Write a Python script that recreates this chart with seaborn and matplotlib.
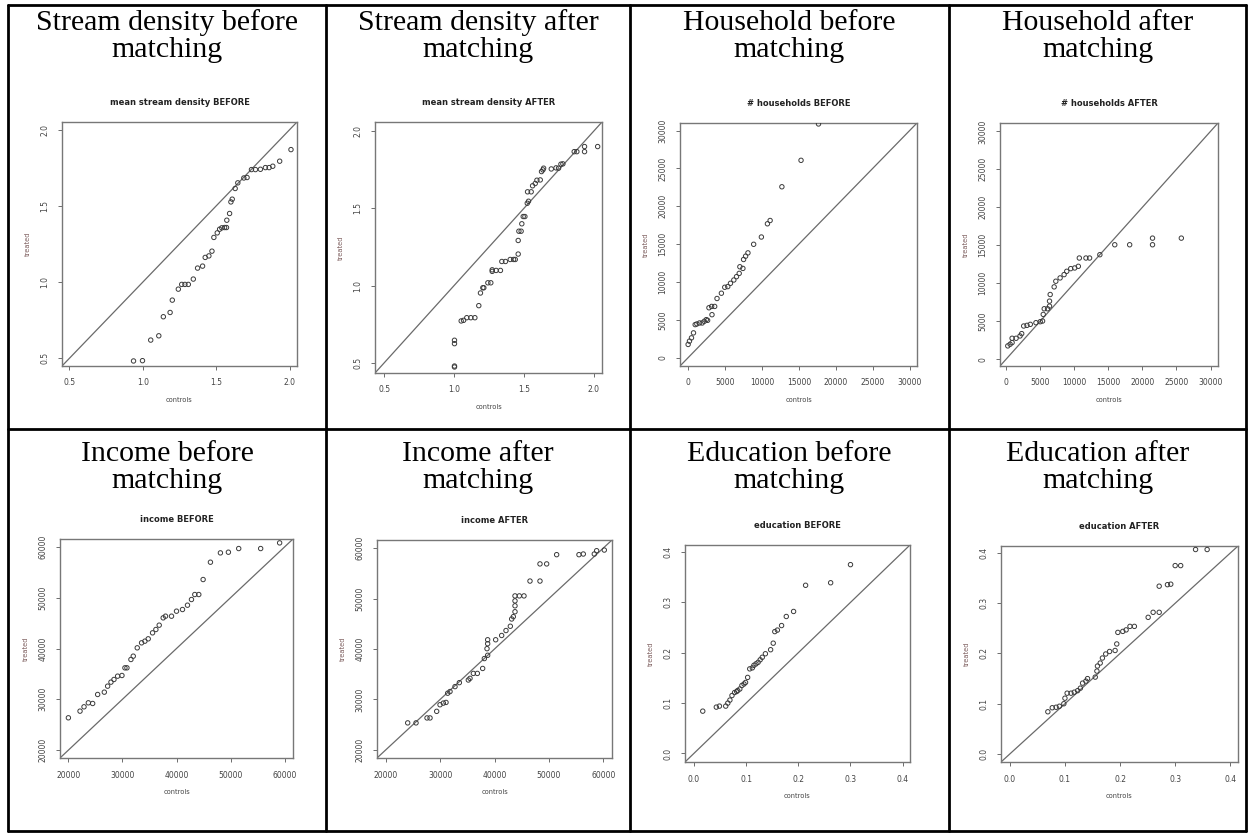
import matplotlib
matplotlib.use("Agg")
import matplotlib.pyplot as plt
import seaborn as sns
from matplotlib.lines import Line2D

sns.set_style("white")

W, H = 1251, 834

# ---- data (controls, treated quantiles) ----
stream_before_x = [0.937, 0.998, 1.054, 1.109, 1.140, 1.186, 1.201, 1.242, 1.265, 1.287, 1.310, 1.344, 1.373,
                   1.407, 1.425, 1.450, 1.471, 1.484, 1.507, 1.523, 1.538, 1.557, 1.570, 1.572, 1.591, 1.600,
                   1.609, 1.629, 1.647, 1.688, 1.710, 1.740, 1.767, 1.801, 1.835, 1.860, 1.885, 1.932, 2.009]
stream_before_y = [0.483, 0.485, 0.620, 0.648, 0.773, 0.801, 0.882, 0.954, 0.985, 0.985, 0.985, 1.020, 1.092,
                   1.105, 1.162, 1.172, 1.203, 1.293, 1.323, 1.347, 1.356, 1.358, 1.358, 1.406, 1.450, 1.526,
                   1.544, 1.614, 1.651, 1.683, 1.686, 1.738, 1.738, 1.740, 1.751, 1.751, 1.760, 1.793, 1.869]

stream_after_x = [1.004, 1.004, 1.004, 1.004, 1.052, 1.069, 1.092, 1.121, 1.150, 1.178, 1.190, 1.207, 1.214,
                  1.243, 1.264, 1.274, 1.274, 1.302, 1.333, 1.343, 1.369, 1.403, 1.427, 1.439, 1.460, 1.460,
                  1.465, 1.481, 1.486, 1.496, 1.508, 1.525, 1.534, 1.527, 1.553, 1.563, 1.582, 1.594, 1.618,
                  1.627, 1.637, 1.642, 1.697, 1.731, 1.749, 1.766, 1.780, 1.861, 1.880, 1.935, 1.935, 2.029]
stream_after_y = [0.474, 0.480, 0.625, 0.647, 0.772, 0.776, 0.793, 0.793, 0.793, 0.871, 0.953, 0.987, 0.987,
                  1.019, 1.019, 1.093, 1.103, 1.099, 1.099, 1.157, 1.157, 1.170, 1.170, 1.170, 1.205, 1.293,
                  1.353, 1.353, 1.401, 1.448, 1.448, 1.534, 1.547, 1.608, 1.608, 1.647, 1.662, 1.683, 1.685,
                  1.739, 1.750, 1.761, 1.756, 1.763, 1.761, 1.787, 1.789, 1.868, 1.868, 1.868, 1.901, 1.901]

hh_before_x = [0, 180, 455, 728, 956, 1183, 1548, 1912, 2185, 2458, 2640, 3232, 2822, 3186, 3596, 3914,
               4506, 4961, 5371, 5735, 6190, 6554, 6918, 7009, 7419, 7510, 7783, 8102, 8876, 9922, 10742,
               11106, 12699, 15293, 17660]
hh_before_y = [1747, 2183, 2620, 3275, 4367, 4454, 4585, 4585, 4803, 5022, 4934, 5677, 6594, 6769, 6769,
               7817, 8515, 9301, 9389, 9825, 10262, 10699, 11135, 12009, 11790, 12969, 13406, 13843, 14978,
               15939, 17686, 18122, 22576, 26070, 30873]

hh_after_x = [243, 583, 875, 875, 1458, 2042, 2285, 2577, 3063, 3549, 4375, 5007, 5348, 5445, 5591, 6077,
              6369, 6369, 6466, 7049, 7292, 7924, 8508, 8897, 9480, 10063, 10598, 10744, 11716, 12251,
              13758, 15946, 18133, 21488, 21488, 25717]
hh_after_y = [1747, 1965, 2183, 2751, 2751, 3057, 3362, 4367, 4454, 4585, 4803, 4934, 5022, 5895, 6638,
              6638, 6987, 7642, 8515, 9520, 10262, 10699, 11135, 11572, 11921, 12009, 12227, 13319, 13319,
              13319, 13755, 15066, 15066, 15066, 15939, 15939]

inc_before_x = [20000, 22154, 22892, 23692, 24492, 25415, 26646, 27262, 27877, 28431, 29108, 29908, 30462,
                30831, 31569, 32000, 32738, 33538, 34154, 34769, 35569, 36185, 36800, 37538, 37969, 39077,
                40000, 41108, 42031, 42769, 43385, 44123, 44923, 46277, 48123, 49600, 51508, 55569, 59077]
inc_before_y = [26361, 27672, 28525, 29311, 29180, 30951, 31410, 32590, 33377, 33902, 34557, 34689, 36197,
                36197, 37836, 38492, 40131, 41115, 41443, 41902, 43082, 43738, 44590, 46033, 46361, 46361,
                47344, 47672, 48525, 49639, 50623, 50623, 53574, 56984, 58820, 58951, 59672, 59672, 60787]

inc_after_x = [24043, 25574, 27596, 28147, 29372, 29985, 30597, 31087, 31394, 31822, 32741, 33538, 35191,
               35498, 36110, 36845, 37825, 38132, 38744, 38621, 38744, 38744, 40214, 41317, 42113, 42909,
               43154, 43460, 43767, 43767, 43767, 43767, 44564, 45421, 46524, 48361, 48361, 49587, 51424,
               55528, 56324, 58346, 58775, 60184]
inc_after_y = [25359, 25359, 26340, 26340, 27647, 28954, 29281, 29412, 31242, 31569, 32549, 33333, 33856,
               34183, 35163, 35163, 36144, 38105, 38758, 40065, 41046, 41830, 41830, 42680, 43660, 44510,
               45948, 46405, 47386, 48562, 49542, 50523, 50523, 50523, 53464, 53464, 56863, 56863, 58693,
               58693, 58824, 58824, 59477, 59608]

edu_before_x = [0.017, 0.043, 0.049, 0.061, 0.065, 0.069, 0.073, 0.078, 0.082, 0.084, 0.088, 0.092, 0.096,
                0.099, 0.103, 0.107, 0.112, 0.115, 0.119, 0.123, 0.127, 0.131, 0.137, 0.147, 0.152, 0.155,
                0.160, 0.168, 0.177, 0.191, 0.214, 0.262, 0.300]
edu_before_y = [0.084, 0.092, 0.094, 0.094, 0.100, 0.106, 0.115, 0.121, 0.123, 0.125, 0.128, 0.135, 0.138,
                0.141, 0.151, 0.168, 0.170, 0.175, 0.178, 0.181, 0.186, 0.191, 0.198, 0.206, 0.219, 0.242,
                0.245, 0.254, 0.272, 0.282, 0.334, 0.339, 0.375]

edu_after_x = [0.069, 0.077, 0.084, 0.090, 0.098, 0.100, 0.104, 0.111, 0.117, 0.123, 0.128, 0.132, 0.138,
               0.141, 0.155, 0.158, 0.159, 0.164, 0.168, 0.174, 0.181, 0.191, 0.194, 0.196, 0.205, 0.211,
               0.218, 0.226, 0.251, 0.260, 0.271, 0.271, 0.286, 0.292, 0.300, 0.310, 0.337, 0.358]
edu_after_y = [0.084, 0.092, 0.093, 0.095, 0.100, 0.111, 0.121, 0.121, 0.123, 0.126, 0.131, 0.141, 0.145,
               0.150, 0.153, 0.165, 0.175, 0.181, 0.191, 0.199, 0.204, 0.206, 0.219, 0.242, 0.244, 0.247,
               0.254, 0.254, 0.272, 0.282, 0.282, 0.334, 0.337, 0.338, 0.375, 0.375, 0.407, 0.407]

headers = ["Stream density before\nmatching", "Stream density after\nmatching",
           "Household before\nmatching", "Household after\nmatching",
           "Income before\nmatching", "Income after\nmatching",
           "Education before\nmatching", "Education after\nmatching"]
inner_titles = ["mean stream density BEFORE", "mean stream density AFTER",
                "# households BEFORE", "# households AFTER",
                "income BEFORE", "income AFTER",
                "education BEFORE", "education AFTER"]

stream_ticks = [0.5, 1.0, 1.5, 2.0]
stream_labels = ["0.5", "1.0", "1.5", "2.0"]
hh_ticks = [0, 5000, 10000, 15000, 20000, 25000, 30000]
hh_labels = ["0", "5000", "10000", "15000", "20000", "25000", "30000"]
inc_ticks = [20000, 30000, 40000, 50000, 60000]
inc_labels = ["20000", "30000", "40000", "50000", "60000"]
edu_ticks = [0.0, 0.1, 0.2, 0.3, 0.4]
edu_labels = ["0.0", "0.1", "0.2", "0.3", "0.4"]

panels = [
    (stream_before_x, stream_before_y, stream_ticks, stream_labels, (0.45, 2.05), (62, 297, 122, 366)),
    (stream_after_x, stream_after_y, stream_ticks, stream_labels, (0.435, 2.06), (375, 602, 122, 373)),
    (hh_before_x, hh_before_y, hh_ticks, hh_labels, (-1100, 31000), (680, 917, 123, 366)),
    (hh_after_x, hh_after_y, hh_ticks, hh_labels, (-900, 31100), (1000, 1218, 123, 366)),
    (inc_before_x, inc_before_y, inc_ticks, inc_labels, (18450, 61550), (60, 293, 539, 758)),
    (inc_after_x, inc_after_y, inc_ticks, inc_labels, (18400, 61600), (377, 612, 540, 758)),
    (edu_before_x, edu_before_y, edu_ticks, edu_labels, (-0.017, 0.414), (685, 910, 545, 762)),
    (edu_after_x, edu_after_y, edu_ticks, edu_labels, (-0.016, 0.414), (1001, 1238, 546, 762)),
]

fig = plt.figure(figsize=(W / 100, H / 100), dpi=100)
fig.patch.set_facecolor("white")

grey = "#555555"
for i, (xs, ys, ticks, labels, lim, (l, r, t, b)) in enumerate(panels):
    ax = fig.add_axes([l / W, 1 - b / H, (r - l) / W, (b - t) / H])
    sns.scatterplot(x=xs, y=ys, ax=ax, s=10, marker="o", facecolor="none",
                    edgecolor="#3a3a3a", linewidth=0.7, zorder=3)
    ax.axline((lim[0], lim[0]), slope=1, color="#6a6a6a", lw=0.9, zorder=2)
    ax.set_xlim(lim)
    ax.set_ylim(lim)
    ax.set_xticks(ticks, labels)
    ax.set_yticks(ticks, labels)
    ax.tick_params(axis="both", direction="out", length=3, width=0.6, color=grey,
                   labelsize=5.5, labelcolor="#444444", pad=6, bottom=True, left=True)
    ax.tick_params(axis="y", labelrotation=90)
    for lab in ax.get_yticklabels():
        lab.set_va("center")
    for sp in ax.spines.values():
        sp.set_color("#777777")
        sp.set_linewidth(1.0)
    ax.set_xlabel("controls", fontsize=4.8, color="#444444", labelpad=7)
    ax.set_ylabel("treated", fontsize=4.8, color="#7a5a5a", labelpad=7)
    ax.set_title(inner_titles[i], fontsize=6, fontweight="bold", color="#222222", pad=12)

# table headers
col_centers = [167, 478, 789, 1098]
for i, text in enumerate(headers):
    row, col = divmod(i, 4)
    y0 = 30 if row == 0 else 461
    lines = text.split("\n")
    for k, line in enumerate(lines):
        fig.text(col_centers[col] / W, 1 - (y0 + k * 27) / H, line, ha="center", va="baseline",
                 fontsize=21.5, family="Liberation Serif", color="black")

# table grid
lw = 2.0
for x in [8, 326, 630, 949, 1246]:
    fig.add_artist(Line2D([x / W, x / W], [1 - 5 / H, 1 - 831 / H], color="black", lw=lw))
for y in [5, 429, 831]:
    fig.add_artist(Line2D([8 / W, 1246 / W], [1 - y / H, 1 - y / H], color="black", lw=lw))

plt.rcParams["font.family"] = ["Liberation Sans", "DejaVu Sans"]
fig.savefig("out.png", dpi=100)
